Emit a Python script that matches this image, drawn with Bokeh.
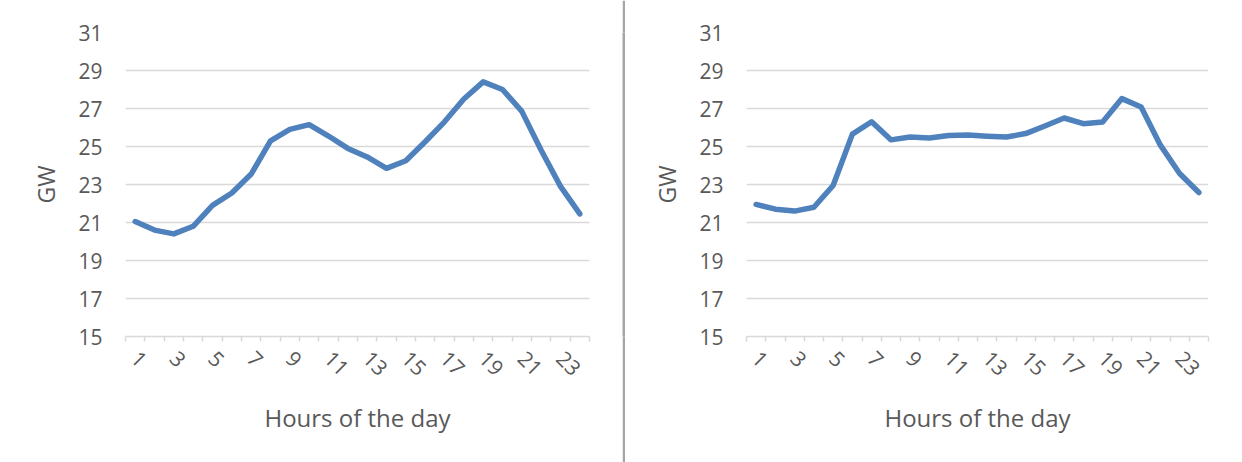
import math
from bokeh.plotting import figure
from bokeh.layouts import row
from bokeh.models import FixedTicker, Range1d
from bokeh.embed import file_html
from bokeh.resources import INLINE

hours = list(range(1, 25))
load_left = [21.05, 20.6, 20.4, 20.8, 21.9, 22.55, 23.55, 25.3, 25.9, 26.15,
             25.55, 24.9, 24.45, 23.85, 24.25, 25.25, 26.3, 27.5, 28.4, 28.0,
             26.85, 24.8, 22.9, 21.45]
load_right = [21.95, 21.7, 21.6, 21.8, 22.95, 25.65, 26.3, 25.35, 25.5, 25.45,
              25.58, 25.6, 25.54, 25.5, 25.68, 26.08, 26.5, 26.2, 26.29, 27.52,
              27.08, 25.07, 23.58, 22.58]
y_ticks = [15, 17, 19, 21, 23, 25, 27, 29, 31]
x_ticks = list(range(1, 24, 2))
x_label = "Hours of the day"
y_label = "GW"

FONT = "Open Sans"
TXT = "#595959"
GRID = "#d9d9d9"
LINE = "#4f81bd"
H = 462


def make_panel(values, width, left, right):
    p = figure(width=width, height=H, output_backend="svg", toolbar_location=None,
               x_range=Range1d(0.5, 24.5), y_range=Range1d(15, 31),
               min_border_left=left, min_border_right=right,
               min_border_top=32, min_border_bottom=H - 336)
    p.line(hours, values, line_color=LINE, line_width=5.5,
           line_join="round", line_cap="round")
    p.outline_line_color = None
    p.xgrid.grid_line_color = None
    p.ygrid.grid_line_color = GRID
    p.ygrid.grid_line_width = 1.5
    p.ygrid.ticker = FixedTicker(ticks=y_ticks)

    xa = p.xaxis[0]
    xa.ticker = FixedTicker(ticks=x_ticks, minor_ticks=[i + 0.5 for i in range(0, 25)])
    xa.axis_line_color = GRID
    xa.axis_line_width = 1.5
    xa.major_tick_out = 0
    xa.major_tick_in = 0
    xa.minor_tick_out = 5
    xa.minor_tick_in = 0
    xa.minor_tick_line_color = GRID
    xa.minor_tick_line_width = 1.5
    xa.major_label_orientation = -math.pi / 4
    xa.major_label_standoff = 13
    xa.major_label_text_font = FONT
    xa.major_label_text_font_size = "21px"
    xa.major_label_text_color = TXT
    xa.axis_label = x_label
    xa.axis_label_text_font = FONT
    xa.axis_label_text_font_size = "24px"
    xa.axis_label_text_font_style = "normal"
    xa.axis_label_text_color = TXT
    xa.axis_label_standoff = 15

    ya = p.yaxis[0]
    ya.ticker = FixedTicker(ticks=y_ticks)
    ya.axis_line_color = None
    ya.major_tick_line_color = None
    ya.minor_tick_line_color = None
    ya.major_tick_out = 0
    ya.major_tick_in = 0
    ya.minor_tick_out = 0
    ya.major_label_standoff = 23
    ya.major_label_text_font = FONT
    ya.major_label_text_font_size = "21px"
    ya.major_label_text_color = TXT
    ya.axis_label = y_label
    ya.axis_label_text_font = FONT
    ya.axis_label_text_font_size = "23px"
    ya.axis_label_text_font_style = "normal"
    ya.axis_label_text_color = TXT
    ya.axis_label_standoff = 13
    return p


p1 = make_panel(load_left, 622, 125, 33)

div = figure(width=3, height=H, output_backend="svg", toolbar_location=None,
             min_border=0, x_range=Range1d(0, 1), y_range=Range1d(0, 1))
div.axis.visible = False
div.grid.visible = False
div.outline_line_color = None
div.background_fill_color = "#a6a6a6"
div.border_fill_color = "#a6a6a6"

p2 = make_panel(load_right, 617, 121, 34)

layout = row(p1, div, p2, spacing=0)
open("out.html", "w").write(file_html(layout, INLINE))
